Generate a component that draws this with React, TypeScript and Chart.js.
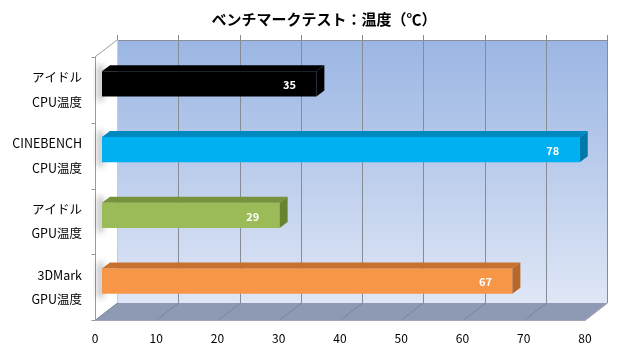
import React, { useEffect, useRef } from "react";
import { Chart, registerables } from "chart.js";

Chart.register(...registerables);

// ---- data ----
const categories: string[][] = [
  ["アイドル", "CPU温度"],
  ["CINEBENCH", "CPU温度"],
  ["アイドル", "GPU温度"],
  ["3DMark", "GPU温度"],
];
const values: number[] = [35, 78, 29, 67];
const frontColors: string[] = ["#000000", "#00B0F0", "#9BBB59", "#F79646"];
const topColors: string[] = ["#000000", "#0089BF", "#76923C", "#C8712E"];
const sideColors: string[] = ["#000000", "#0079AA", "#67832F", "#B8662A"];
const xMin = 0;
const xMax = 80;
const xStep = 10;
const titleText = "ベンチマークテスト：温度（℃）";

// ---- 3D geometry (pixels) ----
const FRONT_DX = -7; // bar plane -> front plane
const FRONT_DY = 6;
const WALL_DX = 22; // front plane -> back wall
const WALL_DY = -17;
const BAR_DX = 8; // bar depth
const BAR_DY = -6;
const FONT = "'Noto Sans CJK JP', 'Noto Sans', sans-serif";

const threeD = {
  id: "threeD",
  beforeDatasetsDraw(chart: any) {
    const { ctx, chartArea: a, scales } = chart;
    const x = scales.x;
    const fx0 = x.getPixelForValue(xMin) + FRONT_DX;
    const fx1 = x.getPixelForValue(xMax) + FRONT_DX;
    const fyT = a.top + FRONT_DY;
    const fyB = a.bottom + FRONT_DY;
    const bx0 = fx0 + WALL_DX;
    const bx1 = fx1 + WALL_DX;
    const byT = fyT + WALL_DY;
    const byB = fyB + WALL_DY;
    ctx.save();
    // back wall
    const g = ctx.createLinearGradient(0, byT, 0, byB);
    g.addColorStop(0, "#9BB6E4");
    g.addColorStop(0.5, "#BCCDEC");
    g.addColorStop(1, "#DFE7F6");
    ctx.fillStyle = g;
    ctx.fillRect(bx0, byT, bx1 - bx0, byB - byT);
    // floor
    ctx.fillStyle = "#8E9AB4";
    ctx.beginPath();
    ctx.moveTo(fx0, fyB);
    ctx.lineTo(fx1, fyB);
    ctx.lineTo(bx1, byB);
    ctx.lineTo(bx0, byB);
    ctx.closePath();
    ctx.fill();
    // left wall
    ctx.fillStyle = "#FFFFFF";
    ctx.beginPath();
    ctx.moveTo(fx0, fyT);
    ctx.lineTo(bx0, byT);
    ctx.lineTo(bx0, byB);
    ctx.lineTo(fx0, fyB);
    ctx.closePath();
    ctx.fill();
    // gridlines on wall and floor
    ctx.lineWidth = 1;
    for (let v = xMin; v <= xMax; v += xStep) {
      const px = Math.round(x.getPixelForValue(v) + FRONT_DX) + 0.5;
      const bpx = px + WALL_DX;
      ctx.strokeStyle = "#868B96";
      ctx.beginPath();
      ctx.moveTo(bpx, byT - 5);
      ctx.lineTo(bpx, byB);
      ctx.stroke();
      ctx.strokeStyle = "#7A859C";
      ctx.beginPath();
      ctx.moveTo(px, fyB);
      ctx.lineTo(bpx, byB);
      ctx.stroke();
    }
    // wall top edge
    ctx.strokeStyle = "#8A8F99";
    ctx.beginPath();
    ctx.moveTo(bx0, byT + 0.5);
    ctx.lineTo(bx1, byT + 0.5);
    ctx.stroke();
    // back-left edge
    ctx.strokeStyle = "#C8CCD4";
    ctx.beginPath();
    ctx.moveTo(Math.round(bx0) + 0.5, byT);
    ctx.lineTo(Math.round(bx0) + 0.5, byB);
    ctx.stroke();
    // left wall edges
    ctx.strokeStyle = "#9A9A9A";
    ctx.beginPath();
    ctx.moveTo(fx0, fyT);
    ctx.lineTo(bx0, byT);
    ctx.stroke();
    const lx = Math.round(fx0) + 0.5;
    ctx.beginPath();
    ctx.moveTo(lx, fyT);
    ctx.lineTo(lx, fyB);
    ctx.stroke();
    // left axis tick marks
    const n = categories.length;
    for (let k = 0; k <= n; k++) {
      const ty = Math.round(fyT + ((fyB - fyT) * k) / n) + 0.5;
      ctx.beginPath();
      ctx.moveTo(lx - 4, ty);
      ctx.lineTo(lx, ty);
      ctx.stroke();
    }
    // floor front edge
    ctx.strokeStyle = "#A0A6B2";
    ctx.beginPath();
    ctx.moveTo(fx0, Math.round(fyB) + 0.5);
    ctx.lineTo(fx1, Math.round(fyB) + 0.5);
    ctx.lineTo(bx1, byB);
    ctx.stroke();
    // bar shadows on left wall
    const meta = chart.getDatasetMeta(0);
    ctx.filter = "blur(3px)";
    ctx.fillStyle = "rgba(0,0,0,0.3)";
    meta.data.forEach((el: any) => {
      const t = el.y - el.height / 2 - 6;
      const b = el.y + el.height / 2 + 4;
      ctx.fillRect(fx0 + 3, t, 5, b - t);
    });
    ctx.filter = "none";
    ctx.restore();
  },
  afterDatasetsDraw(chart: any) {
    const { ctx } = chart;
    const meta = chart.getDatasetMeta(0);
    ctx.save();
    meta.data.forEach((el: any, i: number) => {
      const x0 = el.base;
      const x1 = el.x;
      const yT = el.y - el.height / 2;
      const yB = el.y + el.height / 2;
      // top face
      ctx.fillStyle = topColors[i];
      ctx.beginPath();
      ctx.moveTo(x0, yT);
      ctx.lineTo(x1, yT);
      ctx.lineTo(x1 + BAR_DX, yT + BAR_DY);
      ctx.lineTo(x0 + BAR_DX, yT + BAR_DY);
      ctx.closePath();
      ctx.fill();
      // side face
      ctx.fillStyle = sideColors[i];
      ctx.beginPath();
      ctx.moveTo(x1, yT);
      ctx.lineTo(x1 + BAR_DX, yT + BAR_DY);
      ctx.lineTo(x1 + BAR_DX, yB + BAR_DY);
      ctx.lineTo(x1, yB);
      ctx.closePath();
      ctx.fill();
      // value label
      ctx.fillStyle = "#FFFFFF";
      ctx.font = `bold 11px ${FONT}`;
      ctx.textAlign = "center";
      ctx.textBaseline = "middle";
      ctx.fillText(String(values[i]), x1 - 27, el.y + 1);
    });
    ctx.restore();
  },
  afterDraw(chart: any) {
    const { ctx, chartArea: a } = chart;
    ctx.save();
    ctx.fillStyle = "#000000";
    ctx.font = `bold 15px ${FONT}`;
    ctx.textAlign = "center";
    ctx.textBaseline = "middle";
    ctx.fillText(titleText, (a.left + a.right) / 2 - 23, 19);
    ctx.restore();
  },
};

export default function App() {
  const ref = useRef<HTMLCanvasElement | null>(null);
  useEffect(() => {
    if (!ref.current) return;
    const chart = new Chart(ref.current, {
      type: "bar",
      data: {
        labels: categories,
        datasets: [
          {
            data: values,
            backgroundColor: frontColors,
            borderWidth: 0,
            barPercentage: 0.385,
            categoryPercentage: 1,
          },
        ],
      },
      options: {
        indexAxis: "y",
        responsive: false,
        animation: false,
        layout: { padding: { left: 0, right: 28, top: 51, bottom: 0 } },
        plugins: {
          legend: { display: false },
          tooltip: { enabled: false },
          title: { display: false },
        },
        scales: {
          x: {
            min: xMin,
            max: xMax,
            grid: { display: false, drawTicks: false },
            border: { display: false },
            ticks: {
              stepSize: xStep,
              color: "#000000",
              font: { family: FONT, size: 12 },
              padding: 17,
              labelOffset: FRONT_DX,
              maxRotation: 0,
            },
            afterFit: (s: any) => {
              s.height = 46;
            },
          },
          y: {
            grid: { display: false, drawTicks: false },
            border: { display: false },
            ticks: {
              color: "#000000",
              font: { family: FONT, size: 12.5, lineHeight: 1.96 },
              padding: 20,
              labelOffset: FRONT_DY,
            },
            afterFit: (s: any) => {
              s.width = 102;
            },
          },
        },
      },
      plugins: [threeD],
    });
    return () => chart.destroy();
  }, []);
  return (
    <div style={{ position: "fixed", left: 0, top: 0, width: 620, height: 360, background: "#fff" }}>
      <canvas ref={ref} width={620} height={360} />
    </div>
  );
}
